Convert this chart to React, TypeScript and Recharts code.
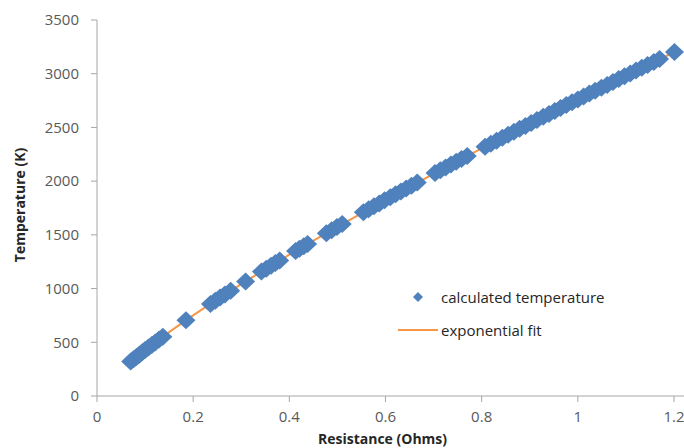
import React from 'react';
import { ScatterChart, Scatter, XAxis, YAxis, Legend } from 'recharts';

const resistance = [
  0.07, 0.076, 0.082, 0.088, 0.094, 0.1, 0.107, 0.114, 0.121, 0.129, 0.137,
  0.185,
  0.236, 0.246, 0.256, 0.266, 0.278,
  0.309,
  0.342, 0.352, 0.362, 0.371, 0.38,
  0.413, 0.421, 0.43, 0.438,
  0.477, 0.488, 0.499, 0.51,
  0.554, 0.565, 0.576, 0.587, 0.598, 0.61, 0.621, 0.632, 0.643, 0.654, 0.666,
  0.703, 0.714, 0.725, 0.736, 0.747, 0.758, 0.77,
  0.807, 0.819, 0.831, 0.843, 0.855, 0.867, 0.879, 0.891, 0.903, 0.915, 0.928,
  0.94, 0.952, 0.964, 0.976, 0.988, 1.0, 1.012, 1.024, 1.036, 1.049, 1.061,
  1.073, 1.085, 1.097, 1.109, 1.121, 1.133, 1.145, 1.158, 1.17,
  1.201,
];
const temperature = [
  320, 342, 364, 385, 407, 428, 452, 475, 499, 525, 552,
  704,
  857, 887, 916, 944, 979,
  1066,
  1158, 1185, 1212, 1237, 1261,
  1349, 1370, 1394, 1415,
  1516, 1544, 1572, 1600,
  1711, 1739, 1766, 1793, 1821, 1850, 1877, 1904, 1931, 1958, 1987,
  2076, 2102, 2128, 2154, 2180, 2206, 2234,
  2320, 2348, 2376, 2404, 2432, 2459, 2487, 2514, 2542, 2569, 2599,
  2626, 2653, 2680, 2708, 2734, 2761, 2788, 2815, 2841, 2870, 2896,
  2923, 2950, 2976, 3002, 3029, 3055, 3081, 3110, 3136,
  3202,
];

// trend line
const fitResistance = [0.07, 0.1, 0.2, 0.3, 0.4, 0.5, 0.6, 0.7, 0.8, 0.9, 1.0, 1.1, 1.201];
const fitTemperature = [320, 428, 750, 1041, 1315, 1575, 1826, 2068, 2305, 2535, 2761, 2983, 3202];

const xTicks = [0, 0.2, 0.4, 0.6, 0.8, 1, 1.2];
const yTicks = [0, 500, 1000, 1500, 2000, 2500, 3000, 3500];

const SERIES_NAME = 'calculated temperature';
const FIT_NAME = 'exponential fit';

const BLUE = '#4F81BD';
const ORANGE = '#F79646';
const FONT = '"Open Sans", sans-serif';

const measured = resistance.map((r, i) => ({ r, t: temperature[i] }));
const fit = fitResistance.map((r, i) => ({ r, t: fitTemperature[i] }));

const Diamond = (props: any) => {
  const { cx, cy } = props;
  if (cx == null || cy == null) return <g />;
  const w = 9.5;
  const h = 9;
  return (
    <polygon
      points={`${cx},${cy - h} ${cx + w},${cy} ${cx},${cy + h} ${cx - w},${cy}`}
      fill={BLUE}
    />
  );
};

const NoDot = () => <g />;

const LegendBox = () => (
  <div style={{ fontFamily: FONT, fontSize: 15, color: '#262626', lineHeight: '20px' }}>
    <div style={{ display: 'flex', alignItems: 'center', height: 20 }}>
      <svg width={42} height={20}>
        <polygon points="22,5 27,10 22,15 17,10" fill={BLUE} />
      </svg>
      <span style={{ marginLeft: 3 }}>{SERIES_NAME}</span>
    </div>
    <div style={{ display: 'flex', alignItems: 'center', height: 20, marginTop: 13 }}>
      <svg width={42} height={20}>
        <line x1={2} y1={10} x2={42} y2={10} stroke={ORANGE} strokeWidth={2} />
      </svg>
      <span style={{ marginLeft: 3 }}>{FIT_NAME}</span>
    </div>
  </div>
);

const App: React.FC = () => {
  return (
    <div style={{ position: 'absolute', left: 0, top: 0, background: '#fff' }}>
      <ScatterChart width={684} height={448} margin={{ top: 20, right: 0, bottom: 0, left: 0 }}>
        <XAxis
          type="number"
          dataKey="r"
          domain={[0, 1.2208]}
          ticks={xTicks}
          allowDataOverflow
          height={52}
          stroke="#A6A6A6"
          tickSize={6}
          tickMargin={9}
          tick={{ fill: '#595959', fontSize: 15, fontFamily: FONT }}
          label={{
            value: 'Resistance (Ohms)',
            position: 'insideBottom',
            offset: 4,
            dx: -8,
            style: { fontFamily: FONT, fontSize: 14, fontWeight: 700, fill: '#262626' },
          }}
        />
        <YAxis
          type="number"
          dataKey="t"
          domain={[0, 3500]}
          ticks={yTicks}
          width={97}
          stroke="#A6A6A6"
          tickSize={6}
          tickMargin={12}
          tick={{ fill: '#595959', fontSize: 15, fontFamily: FONT }}
          label={{
            value: 'Temperature (K)',
            angle: -90,
            position: 'insideLeft',
            offset: 20,
            dy: -3,
            style: { textAnchor: 'middle', fontFamily: FONT, fontSize: 14, fontWeight: 700, fill: '#262626' },
          }}
        />
        <Legend
          layout="horizontal"
          verticalAlign="middle"
          align="center"
          content={LegendBox}
          wrapperStyle={{ left: 396, top: 287, width: 260 }}
        />
        <Scatter
          name={FIT_NAME}
          data={fit}
          line={{ stroke: ORANGE, strokeWidth: 2 }}
          lineJointType="monotoneX"
          shape={NoDot}
          isAnimationActive={false}
        />
        <Scatter
          name={SERIES_NAME}
          data={measured}
          fill={BLUE}
          shape={Diamond}
          isAnimationActive={false}
        />
      </ScatterChart>
    </div>
  );
};

export default App;
